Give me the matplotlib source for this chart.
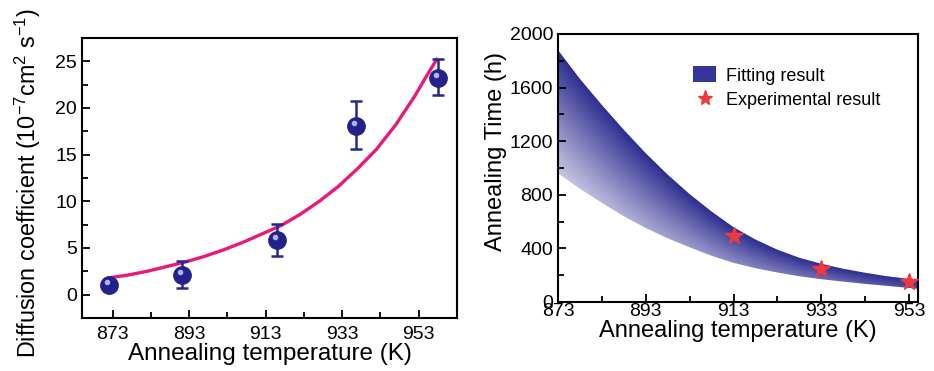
import numpy as np
import matplotlib
matplotlib.use('Agg')
import matplotlib.pyplot as plt
import matplotlib.transforms as mtransforms
from matplotlib.patches import Patch
from matplotlib.lines import Line2D
from matplotlib.colors import LinearSegmentedColormap

plt.rcParams['font.family'] = ['Liberation Sans', 'DejaVu Sans']
plt.rcParams['mathtext.fontset'] = 'custom'
plt.rcParams['mathtext.rm'] = 'Liberation Sans'

# Left panel: diffusion coefficient data
exp_T = [872.0, 891.1, 915.9, 936.5, 958.0]
exp_D = [1.05, 2.15, 5.9, 18.1, 23.25]
err_low = [0.3, 1.45, 1.8, 2.5, 1.85]
err_high = [0.3, 1.5, 1.7, 2.6, 1.95]

fit_T = [872, 877, 882, 887, 892, 897, 902, 907, 912, 917, 922, 927,
         932, 937, 942, 947, 952, 955, 957.7]
fit_D = [1.8, 2.1, 2.5, 3.0, 3.5, 4.1, 4.8, 5.6, 6.5, 7.4, 8.6, 10.0,
         11.6, 13.5, 15.6, 18.2, 21.3, 23.4, 25.2]

# Right panel: annealing time band and experiment
band_T = [873, 878, 883, 888, 893, 898, 903, 908, 913, 918, 923, 928,
          933, 938, 943, 948, 953, 955]
band_upper = [1880, 1665, 1470, 1285, 1110, 950, 805, 675, 558, 466, 390, 330,
              285, 248, 218, 192, 172, 165]
band_lower = [960, 845, 740, 640, 552, 475, 408, 345, 292, 252, 220, 192,
              170, 152, 135, 120, 105, 98]

star_T = [913, 933, 953]
star_time = [496, 248, 150]

temp_ticks = [873, 893, 913, 933, 953]

fig = plt.figure(figsize=(9.34, 3.71), dpi=100)
ax1 = fig.add_axes([0.0878, 0.1429, 0.4015, 0.7547])
ax2 = fig.add_axes([0.5974, 0.186, 0.3854, 0.7224])

# ---- left panel ----
ax1.plot(fit_T, fit_D, color='#e8197a', lw=2.4, zorder=2)
ax1.errorbar(exp_T, exp_D, yerr=[err_low, err_high], fmt='none', ecolor='#26268c',
             elinewidth=1.8, capsize=4, capthick=1.8, zorder=3)
ax1.plot(exp_T, exp_D, 'o', ms=12.5, color='#22228a', zorder=4)
hl = mtransforms.offset_copy(ax1.transData, fig=fig, x=-2, y=3, units='dots')
ax1.plot(exp_T, exp_D, 'o', ms=4, color='#b4b4ec', mec='none', transform=hl, zorder=5)

ax1.set_xlim(865, 963)
ax1.set_ylim(-2.5, 27.5)
ax1.set_xticks(temp_ticks)
ax1.set_xticks([883, 903, 923, 943], minor=True)
ax1.set_yticks([0, 5, 10, 15, 20, 25])
ax1.set_yticks([-2.5, 2.5, 7.5, 12.5, 17.5, 22.5], minor=True)
ax1.set_xlabel('Annealing temperature (K)', fontsize=17.5, labelpad=0)
ax1.set_ylabel(r'Diffusion coefficient (10$^{\mathrm{-7}}$cm$^{\mathrm{2}}$ s$^{\mathrm{-1}}$)',
               fontsize=16.8)
ax1.yaxis.set_label_coords(-0.104, 0.48)
ax1.tick_params(axis='x', which='major', pad=6)

# ---- right panel ----
cmap = LinearSegmentedColormap.from_list('band', ['#2c2c8e', '#c6c6e4'])
X, Y = np.meshgrid(np.linspace(873, 955, 400), np.linspace(0, 2000, 400))
up = np.interp(X, band_T, band_upper)
lo = np.interp(X, band_T, band_lower)
s = np.clip((up - Y) / (up - lo), 0, 1)
g = 1 - (X - 873) / (955 - 873) * 0.8
img = ax2.imshow(s * g, extent=[873, 955, 0, 2000], origin='lower', aspect='auto',
                 cmap=cmap, vmin=0, vmax=1, zorder=1)
poly = ax2.fill_between(band_T, band_lower, band_upper, color='none', lw=0)
img.set_clip_path(poly.get_paths()[0], transform=ax2.transData)

ax2.plot(star_T, star_time, '*', ms=13, color='#f0393c', zorder=4)

ax2.set_xlim(873, 955)
ax2.set_ylim(0, 2000)
ax2.set_xticks(temp_ticks)
ax2.set_xticks([883, 903, 923, 943], minor=True)
ax2.set_yticks([0, 400, 800, 1200, 1600, 2000])
ax2.set_yticks([200, 600, 1000, 1400, 1800], minor=True)
ax2.set_xlabel('Annealing temperature (K)', fontsize=17, labelpad=0)
ax2.set_ylabel('Annealing Time (h)', fontsize=17)
ax2.yaxis.set_label_coords(-0.142, 0.563)
ax2.tick_params(axis='x', which='major', pad=1)

handles = [Patch(facecolor='#34349a', edgecolor='none'),
           Line2D([], [], marker='*', ls='none', ms=11, color='#f0393c')]
ax2.legend(handles, ['Fitting result', 'Experimental result'], loc='upper left',
           bbox_to_anchor=(0.33, 0.94), frameon=False, fontsize=13,
           handlelength=1.3, handleheight=1.0, handletextpad=0.5, labelspacing=0.35)

for ax in (ax1, ax2):
    for sp in ax.spines.values():
        sp.set_linewidth(1.5)
    ax.tick_params(which='both', direction='in', top=False, right=False,
                   labelsize=14, width=1.3)
    ax.tick_params(which='major', length=6)
    ax.tick_params(which='minor', length=4)

fig.savefig('out.png', dpi=100)
